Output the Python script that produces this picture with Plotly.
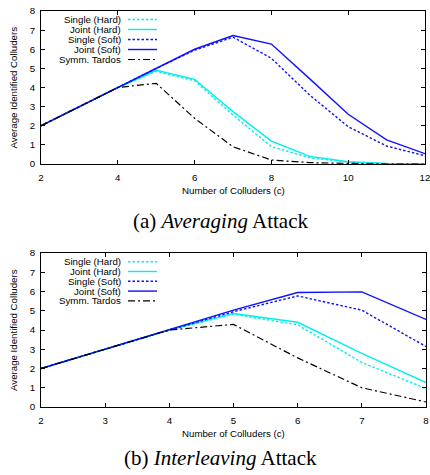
import plotly.graph_objects as go

# ---------------- data ----------------
series_names = ["Single (Hard)", "Joint (Hard)", "Single (Soft)", "Joint (Soft)", "Symm. Tardos"]

c_avg = [2, 3, 4, 5, 6, 7, 8, 9, 10, 11, 12]
single_hard_avg = [2, 3, 4, 4.85, 4.35, 2.56, 0.91, 0.33, 0.10, 0.02, 0.0]
joint_hard_avg = [2, 3, 4, 4.90, 4.43, 2.74, 1.20, 0.40, 0.12, 0.03, 0.01]
single_soft_avg = [2, 3, 4, 5.0, 5.95, 6.63, 5.53, 3.60, 1.95, 0.94, 0.43]
joint_soft_avg = [2, 3, 4, 5.0, 6.00, 6.72, 6.27, 4.45, 2.60, 1.26, 0.54]
tardos_avg = [2, 3, 4, 4.22, 2.39, 0.90, 0.21, 0.07, 0.02, 0.0, 0.0]

c_int = [2, 3, 4, 5, 6, 7, 8]
single_hard_int = [2, 3, 4, 4.82, 4.27, 2.31, 0.96]
joint_hard_int = [2, 3, 4, 4.86, 4.40, 2.79, 1.27]
single_soft_int = [2, 3, 4, 4.95, 5.77, 5.03, 3.14]
joint_soft_int = [2, 3, 4, 5.03, 5.95, 5.98, 4.55]
tardos_int = [2, 3, 4, 4.29, 2.55, 1.00, 0.26]

x_title = "Number of Colluders (c)"
y_title = "Average Identified Colluders"
captions = ["(a) <i>Averaging</i> Attack", "(b) <i>Interleaving</i> Attack"]

# ---------------- styles ----------------
W, H = 430, 475
CYAN = "#00eeee"
BLUE = "#1010ff"
styles = [
    dict(color=CYAN, width=1.4, dash="2.5px,2px"),
    dict(color=CYAN, width=1.4, dash="solid"),
    dict(color=BLUE, width=1.4, dash="2.5px,2px"),
    dict(color=BLUE, width=1.4, dash="solid"),
    dict(color="black", width=1.2, dash="7px,3px,2px,3px"),
]
FONT = "Liberation Sans, Arial, sans-serif"
FS = 9.7

def px(x):
    return x / W

def py(y):
    return 1 - y / H

fig = go.Figure()

top_series = [single_hard_avg, joint_hard_avg, single_soft_avg, joint_soft_avg, tardos_avg]
bot_series = [single_hard_int, joint_hard_int, single_soft_int, joint_soft_int, tardos_int]

for name, ys, st in zip(series_names, top_series, styles):
    fig.add_trace(go.Scatter(x=c_avg, y=ys, mode="lines", name=name, line=st,
                             xaxis="x", yaxis="y", showlegend=False))
for name, ys, st in zip(series_names, bot_series, styles):
    fig.add_trace(go.Scatter(x=c_int, y=ys, mode="lines", name=name, line=st,
                             xaxis="x2", yaxis="y2", showlegend=False))

# plot area geometry (pixels)
top_box = (41, 11, 425, 164)
bot_box = (41, 253, 426, 407)

axis_common = dict(showgrid=False, zeroline=False, showline=True, linecolor="black",
                   linewidth=1, ticks="inside", ticklen=4, tickcolor="black",
                   mirror="ticks", tickfont=dict(family=FONT, size=FS, color="black"),
                   automargin=False, ticklabeloverflow="allow")

fig.update_layout(
    width=W, height=H,
    margin=dict(l=0, r=0, t=0, b=0),
    paper_bgcolor="white", plot_bgcolor="white",
    xaxis=dict(domain=[px(top_box[0]), px(top_box[2])], range=[2, 12], dtick=2,
               anchor="y", ticklabelstandoff=4, **axis_common),
    yaxis=dict(domain=[py(top_box[3]), py(top_box[1])], range=[0, 8], dtick=1,
               anchor="x", ticklabelstandoff=3, **axis_common),
    xaxis2=dict(domain=[px(bot_box[0]), px(bot_box[2])], range=[2, 8], dtick=1,
                anchor="y2", ticklabelstandoff=4, **axis_common),
    yaxis2=dict(domain=[py(bot_box[3]), py(bot_box[1])], range=[0, 8], dtick=1,
                anchor="x2", ticklabelstandoff=3, **axis_common),
    showlegend=False,
)

annotations = []
shapes = []

def add_axis_titles(box, xt_y):
    cx = (box[0] + box[2]) / 2
    cy = (box[1] + box[3]) / 2
    annotations.append(dict(text=x_title, x=px(cx), y=py(xt_y), xref="paper", yref="paper",
                            xanchor="center", yanchor="middle", showarrow=False,
                            font=dict(family=FONT, size=FS, color="black")))
    annotations.append(dict(text=y_title, x=px(13), y=py(cy), xref="paper", yref="paper",
                            xanchor="center", yanchor="middle", showarrow=False, textangle=-90,
                            font=dict(family=FONT, size=FS, color="black")))

def add_legend(y0, dy):
    for i, (name, st) in enumerate(zip(series_names, styles)):
        yy = y0 + i * dy
        annotations.append(dict(text=name, x=px(123), y=py(yy), xref="paper", yref="paper",
                                xanchor="right", yanchor="middle", showarrow=False,
                                font=dict(family=FONT, size=FS, color="black")))
        shapes.append(dict(type="line", xref="paper", yref="paper",
                           x0=px(128), x1=px(157), y0=py(yy), y1=py(yy),
                           line=dict(color=st["color"], width=st["width"], dash=st["dash"])))

add_axis_titles(top_box, 190)
add_axis_titles(bot_box, 433)
add_legend(19.5, 10)
add_legend(261.7, 9.8)

for cap, cy in zip(captions, [221, 458]):
    annotations.append(dict(text=cap, x=px(220), y=py(cy), xref="paper", yref="paper",
                            xanchor="center", yanchor="middle", showarrow=False,
                            font=dict(family="Liberation Serif, Times New Roman, serif",
                                      size=21, color="black")))

fig.update_layout(annotations=annotations, shapes=shapes)

fig.write_html("out.html", config={"displayModeBar": False},
               post_script="document.body.style.margin='0';document.body.style.padding='0';")
